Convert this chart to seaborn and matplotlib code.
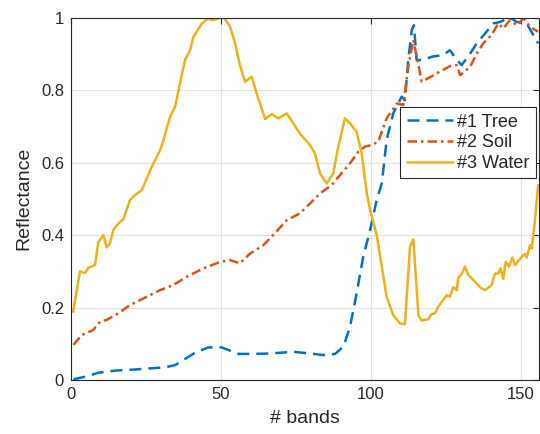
import numpy as np
import pandas as pd
import matplotlib
matplotlib.use("Agg")
import matplotlib.pyplot as plt
import seaborn as sns

# spectral curves (band index, reflectance)
tree_x = [0.8, 4.7, 9.1, 14.7, 21.3, 31.3, 34.7, 41.3, 45.8, 50.2, 55.8, 60.2, 66.3, 74.1,
          84.1, 88.0, 90.8, 93.0, 95.2, 97.4, 99.7, 101.9, 103.6, 105.2, 107.4, 110.2,
          111.3, 112.4, 113.6, 114.3, 115.2, 117.4, 120.2, 124.1, 126.3, 128.6, 130.2,
          133.0, 135.2, 138.0, 140.8, 143.0, 146.3, 148.6, 151.9, 154.1, 155.7]
tree_y = [0.002, 0.009, 0.02, 0.026, 0.029, 0.035, 0.041, 0.075, 0.09, 0.09, 0.072, 0.072,
          0.073, 0.078, 0.069, 0.072, 0.092, 0.147, 0.239, 0.34, 0.414, 0.497, 0.543, 0.662,
          0.736, 0.782, 0.772, 0.883, 0.966, 0.979, 0.883, 0.883, 0.892, 0.897, 0.91, 0.883,
          0.869, 0.9, 0.929, 0.956, 0.984, 0.988, 1.0, 0.988, 0.984, 0.952, 0.929]

soil_x = [0.8, 3.6, 7.4, 9.7, 11.9, 15.8, 19.7, 29.7, 34.1, 38.6, 44.1, 49.7, 53.0, 56.3,
          59.7, 64.1, 67.4, 71.9, 76.3, 79.7, 83.0, 86.9, 89.7, 93.0, 95.8, 98.0, 100.0,
          102.4, 105.2, 108.6, 110.8, 112.4, 114.1, 116.9, 121.9, 126.3, 128.6, 129.7,
          133.0, 135.2, 137.4, 140.2, 142.4, 144.1, 146.3, 148.6, 150.8, 153.0, 155.7]
soil_y = [0.097, 0.124, 0.138, 0.161, 0.166, 0.184, 0.207, 0.248, 0.262, 0.285, 0.308,
          0.326, 0.331, 0.322, 0.349, 0.372, 0.4, 0.441, 0.46, 0.487, 0.515, 0.538, 0.566,
          0.598, 0.63, 0.644, 0.648, 0.657, 0.722, 0.763, 0.759, 0.864, 0.938, 0.823, 0.846,
          0.866, 0.869, 0.841, 0.864, 0.9, 0.929, 0.952, 0.984, 0.97, 0.993, 0.979, 0.998,
          0.975, 0.961]

water_x = [0.7, 3.0, 4.7, 5.8, 8.0, 9.1, 10.8, 11.9, 13.0, 14.1, 15.8, 17.4, 19.7, 21.3,
           23.6, 26.9, 29.7, 30.8, 33.0, 34.7, 36.3, 38.0, 39.7, 40.8, 41.9, 43.6, 45.8,
           46.9, 48.6, 49.7, 51.0, 53.0, 54.7, 56.3, 58.0, 60.2, 61.9, 64.7, 66.9, 69.1,
           71.9, 76.3, 79.7, 81.3, 83.0, 85.2, 87.4, 89.1, 91.3, 93.0, 95.2, 96.9, 98.6,
           99.7, 101.9, 105.2, 107.4, 109.7, 111.3, 113.0, 114.1, 115.8, 116.9, 119.1,
           120.2, 121.3, 122.4, 124.1, 125.2, 126.3, 127.4, 128.6, 129.1, 130.2, 131.3,
           132.4, 134.7, 136.3, 138.0, 140.2, 141.3, 142.4, 143.2, 144.1, 144.9, 146.0,
           147.1, 148.0, 150.2, 151.3, 151.9, 153.0, 153.6, 154.7, 155.7]
water_y = [0.188, 0.3, 0.295, 0.31, 0.317, 0.38, 0.4, 0.366, 0.377, 0.414, 0.432, 0.443,
           0.497, 0.51, 0.524, 0.588, 0.634, 0.662, 0.726, 0.754, 0.818, 0.883, 0.91, 0.947,
           0.961, 0.984, 0.998, 0.993, 0.996, 1.0, 1.0, 0.975, 0.929, 0.869, 0.823, 0.837,
           0.79, 0.72, 0.734, 0.722, 0.736, 0.68, 0.648, 0.625, 0.57, 0.542, 0.57, 0.644,
           0.722, 0.708, 0.685, 0.625, 0.515, 0.469, 0.4, 0.23, 0.179, 0.156, 0.154, 0.368,
           0.388, 0.179, 0.164, 0.168, 0.182, 0.184, 0.202, 0.221, 0.234, 0.23, 0.256,
           0.248, 0.283, 0.292, 0.313, 0.29, 0.271, 0.256, 0.248, 0.262, 0.294, 0.294,
           0.308, 0.279, 0.326, 0.313, 0.338, 0.317, 0.34, 0.348, 0.338, 0.372, 0.363,
           0.446, 0.538]

labels = ['#1 Tree', '#2 Soil', '#3 Water']
colors = ['#0072BD', '#D95319', '#EDB120']

sns.set_style("white")
plt.rcParams['font.family'] = ['Liberation Sans', 'DejaVu Sans']

fig = plt.figure(figsize=(5.4, 4.34), dpi=100)
ax = fig.add_axes([0.1315, 0.1244, 0.8667, 0.835])

sns.lineplot(x=tree_x, y=tree_y, ax=ax, color=colors[0], label=labels[0],
             linewidth=1.8, sort=False, linestyle=(0, (4.8, 2.8)))
sns.lineplot(x=soil_x, y=soil_y, ax=ax, color=colors[1], label=labels[1],
             linewidth=1.8, sort=False, linestyle=(0, (3.8, 1.6, 1, 1.6)))
sns.lineplot(x=water_x, y=water_y, ax=ax, color=colors[2], label=labels[2],
             linewidth=1.8, sort=False)

ax.set_xlim(0, 156)
ax.set_ylim(0, 1)
ax.set_xticks([0, 50, 100, 150])
ax.set_yticks([0, 0.2, 0.4, 0.6, 0.8, 1])
ax.set_yticklabels(['0', '0.2', '0.4', '0.6', '0.8', '1'])
ax.grid(True, color='#e3e3e3', linewidth=0.8)
ax.tick_params(direction='in', top=True, right=True, length=4, width=0.8,
               labelsize=12, colors='#262626', pad=5)
for s in ax.spines.values():
    s.set_color('#262626')
    s.set_linewidth(0.8)
ax.set_xlabel('# bands', fontsize=14, color='#262626', labelpad=6)
ax.set_ylabel('Reflectance', fontsize=14, color='#262626', labelpad=6)

leg = ax.legend(loc='upper right', bbox_to_anchor=(0.993, 0.752), fontsize=13,
                frameon=True, fancybox=False, edgecolor='#262626', framealpha=1,
                handlelength=2.6, handletextpad=0.2, borderpad=0.35, labelspacing=0.2,
                borderaxespad=0)
leg.get_frame().set_linewidth(0.8)

fig.savefig('out.png', dpi=100)
